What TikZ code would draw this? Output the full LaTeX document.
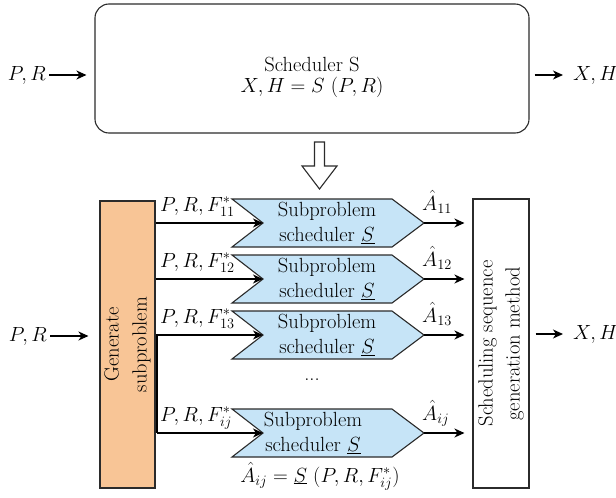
\RequirePackage{fix-cm}
\documentclass[tikz,border=0pt]{standalone}
\usetikzlibrary{arrows.meta}
\definecolor{subblue}{HTML}{C6E4F7}
\definecolor{genorange}{HTML}{F8C596}
\definecolor{edge}{HTML}{2B2B2B}
\begin{document}
\begin{tikzpicture}[x=1pt,y=-1pt,
  font=\fontsize{20.5}{26}\selectfont,
  wire/.style={line width=1.3pt, draw=black},
  arr/.style={wire, -{Stealth[length=10pt,width=9pt,inset=3pt]}},
  boxline/.style={draw=edge, line width=1.1pt},
  subshape/.style={boxline, fill=subblue},
  lbl/.style={inner sep=0pt, anchor=base west},
  io/.style={inner sep=3pt},
]
\useasboundingbox (0,0) rectangle (616,498);

% overall scheduler
\node[boxline, rounded corners=14pt, minimum width=434pt, minimum height=129pt, inner sep=0pt] (sched) at (312,68.5) {};
\node[anchor=base] (schedTitle) at (312,71) {Scheduler S};
\node[anchor=base] (schedEq) at (312,92) {$X, H = S\ (P, R)$};
\node[io, anchor=east] (prTop) at (49,75) {$P, R$};
\draw[arr, shorten >=8pt] (prTop.east) -- (prTop.east -| sched.west);
\node[io, anchor=west] (xhTop) at (570,75) {$X, H$};
\draw[arr, shorten <=5pt, shorten >=7pt] (sched.east |- xhTop.west) -- (xhTop.west);

% hollow arrow: decomposition
\draw[boxline, fill=white] (314.5,142) -- (324.5,142) -- (324.5,166) -- (337,166)
  -- (319.5,189) -- (302,166) -- (314.5,166) -- cycle;

% subproblem generator and sequence builder
\node[boxline, fill=genorange, minimum width=55pt, minimum height=287pt, inner sep=0pt] (gen) at (127.5,344.5) {};
\node[rotate=90, align=center, font=\fontsize{20.5}{28}\selectfont] (genText) at (gen.center) {Generate\\subproblem};
\node[boxline, fill=white, minimum width=56pt, minimum height=289pt, inner sep=0pt] (seq) at (501,343.5) {};
\node[rotate=90, align=center, font=\fontsize{20.5}{27}\selectfont] (seqText) at (seq.center) {Scheduling sequence\\generation method};

% subproblem schedulers
\foreach \i/\y/\lab/\tx in {1/223/11/327, 2/279/12/327, 3/335/13/327, 4/433/ij/313} {
  \draw[subshape] (232,\y-24) -- (392,\y-24) -- (424,\y) -- (392,\y+24)
    -- (232,\y+24) -- (263,\y) -- cycle;
  \coordinate (notch\i) at (263,\y);
  \coordinate (tip\i) at (424,\y);
  \node[align=center, inner sep=0pt, font=\fontsize{20.5}{25}\selectfont] (sub\i) at (\tx,\y) {Subproblem\\scheduler \underline{$S$}};
  \node[lbl] (in\i) at (160,\y-12) {$P, R, F^*_{\lab}$};
  \node[lbl] (out\i) at (422,\y-13) {$\hat{A}_{\lab}$};
  \draw[arr, shorten >=8pt] (tip\i) -- (tip\i -| seq.west);
}

% inputs to the subproblem schedulers
\foreach \i in {1,2,3} {
  \draw[arr] (gen.east |- notch\i) -- (notch\i);
}
\coordinate (busTop) at (157,335);
\coordinate (busBot) at (157,433);
\draw[wire] (busTop) -- (busBot);
\draw[arr] (busBot) -- (notch4);

\node (dots) at (312,380) {...};
\node[anchor=base] (formula) at (320,482) {$\hat{A}_{ij} = \underline{S}\ (P, R, F^*_{ij})$};

% external input and output
\node[io, anchor=east] (prIn) at (50,336) {$P, R$};
\draw[arr, shorten >=11pt] (prIn.east) -- (prIn.east -| gen.west);
\node[io, anchor=west] (xhOut) at (570,334) {$X, H$};
\draw[arr, shorten <=6pt, shorten >=7pt] (seq.east |- xhOut.west) -- (xhOut.west);
\end{tikzpicture}
\end{document}
